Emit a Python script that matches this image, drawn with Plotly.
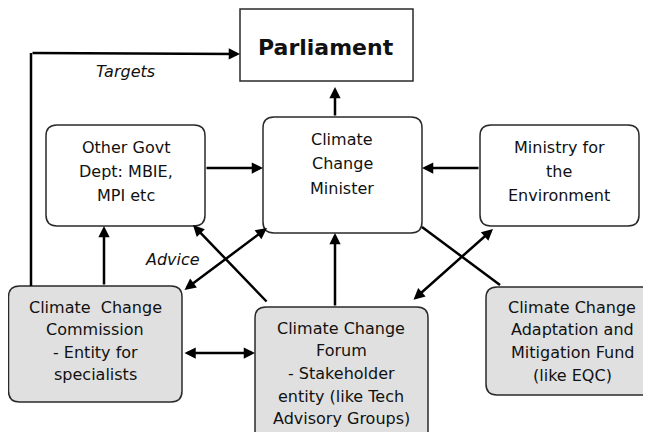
import plotly.graph_objects as go

# ---- diagram content ----
node_names = ["Parliament", "Other Govt", "Minister", "Ministry", "Commission", "Forum", "Fund"]
node_lines = [
    ["Parliament"],
    ["Other Govt", "Dept: MBIE,", "MPI etc"],
    ["Climate", "Change", "Minister"],
    ["Ministry for", "the", "Environment"],
    ["Climate  Change", "Commission", "- Entity for", "specialists"],
    ["Climate Change", "Forum", "- Stakeholder", "entity (like Tech", "Advisory Groups)"],
    ["Climate Change", "Adaptation and", "Mitigation Fund", "(like EQC)"],
]
edge_labels = ["Targets", "Advice"]

# ---- layout (pixel coordinates of the page) ----
W, H = 651, 432
OFF = 8  # default page body margin
boxes = {  # x0, y0, x1, y1, fill, radius
    "Parliament": (240, 9, 413, 81, "white", 0),
    "Other Govt": (46, 125, 205, 226, "white", 11),
    "Minister": (263, 117, 422, 233, "white", 11),
    "Ministry": (480, 125, 639, 226, "white", 11),
    "Commission": (8.5, 286, 182, 402, "#e0e0e0", 11),
    "Forum": (255, 307, 428, 445, "#e0e0e0", 11),
    "Fund": (486, 287, 655, 395, "#e0e0e0", 11),
}
text_pos = {  # center x, first line y, line step
    "Parliament": (326, 47, 0),
    "Other Govt": (126, 147, 24),
    "Minister": (342, 139, 24.5),
    "Ministry": (559, 147, 24),
    "Commission": (95, 307, 22.5),
    "Forum": (341, 328, 22.7),
    "Fund": (572, 307, 22.7),
}


def rrect(x0, y0, x1, y1, r):
    if r == 0:
        return f"M{x0},{y0} L{x1},{y0} L{x1},{y1} L{x0},{y1} Z"
    return (f"M{x0+r},{y0} L{x1-r},{y0} Q{x1},{y0} {x1},{y0+r} "
            f"L{x1},{y1-r} Q{x1},{y1} {x1-r},{y1} L{x0+r},{y1} "
            f"Q{x0},{y1} {x0},{y1-r} L{x0},{y0+r} Q{x0},{y0} {x0+r},{y0} Z")


fig = go.Figure()
shapes = []
annotations = []

for name, lines in zip(node_names, node_lines):
    x0, y0, x1, y1, fill, r = boxes[name]
    shapes.append(dict(type="path", path=rrect(x0, y0, x1, y1, r), xref="x", yref="y",
                       fillcolor=fill, line=dict(color="#2a2a2a", width=1.5), layer="below"))
    cx, cy, step = text_pos[name]
    for i, t in enumerate(lines):
        bold = name == "Parliament"
        annotations.append(dict(
            x=cx, y=cy + i * step, xref="x", yref="y", showarrow=False,
            text=f"<b>{t}</b>" if bold else t,
            font=dict(family="DejaVu Sans", size=22 if bold else 16, color="#111111"),
            xanchor="center", yanchor="middle"))

# plain lines (no arrowheads)
plain_lines = [
    (31, 286, 31, 53),      # Targets vertical
    (500, 285, 422, 227),   # Fund - Minister
]
for x0, y0, x1, y1 in plain_lines:
    shapes.append(dict(type="line", x0=x0, y0=y0, x1=x1, y1=y1, xref="x", yref="y",
                       line=dict(color="black", width=2.5)))

# arrows: tail -> head, double flag
arrows = [
    (31, 53, 240, 54, False),     # Targets to Parliament
    (335, 117, 335, 87, False),   # Minister -> Parliament
    (205, 168, 263, 168, False),  # Other Govt -> Minister
    (480, 168, 422, 168, False),  # Ministry -> Minister
    (104, 286, 104, 226, False),  # Commission -> Other Govt
    (183, 291, 267, 228, True),   # Commission <-> Minister
    (268, 303, 193, 225, False),  # Forum -> Other Govt
    (183, 353, 255, 353, True),   # Commission <-> Forum
    (335, 307, 335, 233, False),  # Forum -> Minister
    (412, 301, 493, 229, True),   # Forum <-> Ministry
]
for ax, ay, x, y, dbl in arrows:
    annotations.append(dict(
        x=x, y=y, ax=ax, ay=ay, xref="x", yref="y", axref="x", ayref="y",
        showarrow=True, text="", arrowhead=2, arrowsize=0.9, arrowwidth=2.5,
        arrowcolor="black", standoff=0, startstandoff=0,
        arrowside="end+start" if dbl else "end", startarrowhead=2, startarrowsize=0.9))

label_pos = [(125, 71), (172, 259)]
for t, (x, y) in zip(edge_labels, label_pos):
    annotations.append(dict(x=x, y=y, xref="x", yref="y", showarrow=False,
                            text=f"<i>{t}</i>",
                            font=dict(family="DejaVu Sans", size=16, color="#111111"),
                            xanchor="center", yanchor="middle"))

fig.update_layout(
    width=W - OFF, height=H - OFF, margin=dict(l=0, r=0, t=0, b=0),
    paper_bgcolor="white", plot_bgcolor="white",
    xaxis=dict(range=[OFF, W], visible=False, fixedrange=True),
    yaxis=dict(range=[H, OFF], visible=False, fixedrange=True),
    shapes=shapes, annotations=annotations, showlegend=False,
)
fig.write_html("out.html", config={"displayModeBar": False})
